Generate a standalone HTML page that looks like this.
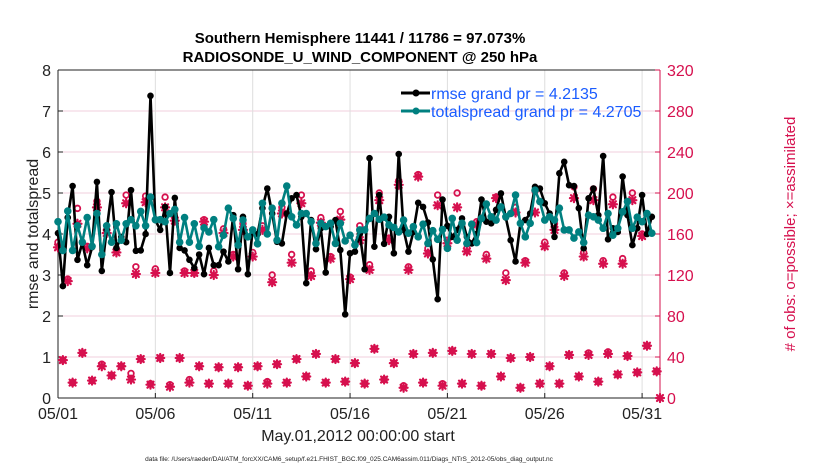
<!DOCTYPE html>
<html><head><meta charset="utf-8">
<style>
body{margin:0;background:#fff;}
svg{display:block;font-family:"Liberation Sans",Arial,sans-serif;}
</style></head>
<body>
<svg id="chart" width="830" height="470" viewBox="0 0 830 470" xmlns="http://www.w3.org/2000/svg">
<g id="grid"></g>
<g id="axes"></g>
<g id="marks"></g>
<text x="360" y="43" text-anchor="middle" font-size="15" font-weight="bold">Southern Hemisphere 11441 / 11786 = 97.073%</text>
<text x="360" y="62" text-anchor="middle" font-size="15" font-weight="bold">RADIOSONDE_U_WIND_COMPONENT @ 250 hPa</text>
<text x="358" y="441" text-anchor="middle" font-size="16" fill="#222">May.01,2012 00:00:00 start</text>
<text x="349" y="461" text-anchor="middle" font-size="6.5" fill="#222">data file: /Users/raeder/DAI/ATM_forcXX/CAM6_setup/f.e21.FHIST_BGC.f09_025.CAM6assim.011/Diags_NTrS_2012-05/obs_diag_output.nc</text>
<text transform="translate(38,234) rotate(-90)" text-anchor="middle" font-size="16" fill="#222">rmse and totalspread</text>
<text transform="translate(795,234) rotate(-90)" text-anchor="middle" font-size="15" fill="#d6104e"># of obs: o=possible; ×=assimilated</text>
<g id="legend">
  <g>
    <line x1="401" y1="93" x2="430" y2="93" stroke="#000" stroke-width="3"/>
    <circle cx="416" cy="93" r="3.5" fill="#000"/>
    <text x="431" y="99" font-size="16" fill="#1a5cff">rmse grand pr = 4.2135</text>
  </g>
  <g>
    <line x1="401" y1="111" x2="430" y2="111" stroke="#008080" stroke-width="3"/>
    <circle cx="416" cy="111" r="3.5" fill="#008080"/>
    <text x="431" y="117" font-size="16" fill="#1a5cff">totalspread grand pr = 4.2705</text>
  </g>
</g>
</svg>
<script>
const rmse = [4.02,2.73,4.4,5.17,3.37,3.78,3.24,3.68,5.27,3.1,4.1,5.02,3.66,3.93,3.8,5.07,3.59,3.6,4.0,7.37,4.34,4.1,4.66,3.05,4.88,3.66,3.6,3.37,3.17,3.5,3.02,3.66,3.24,
3.24,3.57,3.33,4.46,3.14,4.42,3.02,4.1,4.0,4.63,5.11,4.5,3.81,3.77,4.5,4.87,4.95,4.42,2.8,4.34,3.63,4.14,3.06,4.18,4.34,3.61,2.04,3.53,3.57,4.0,3.14,
5.85,3.69,4.95,3.76,4.42,3.53,5.95,4.1,3.57,4.05,4.76,4.66,4.28,3.38,2.41,4.84,4.2,3.93,4.1,4.38,3.93,3.77,4.0,4.84,4.3,4.26,4.59,4.99,
4.4,3.85,3.33,4.26,4.34,4.5,5.15,5.11,4.75,4.5,3.93,5.48,5.76,5.19,5.17,4.63,3.65,4.87,5.11,4.46,5.9,3.87,4.14,4.05,5.4,4.46,3.73,4.14,4.95,4.0,4.42];
const spread = [4.3,3.6,4.56,3.6,4.2,3.8,4.4,3.7,4.5,3.5,4.2,3.8,4.25,3.85,4.25,4.35,4.2,4.55,4.2,4.9,4.35,4.35,4.3,4.5,4.6,3.8,4.4,3.8,4.25,3.7,4.15,4.05,4.35,
3.69,3.97,4.63,4.38,3.73,4.34,3.93,4.1,3.76,4.75,4.0,4.63,3.85,4.75,5.17,4.42,4.22,4.5,4.5,4.3,3.77,4.26,4.18,4.26,3.77,4.26,3.83,3.97,3.73,4.1,4.1,
4.38,4.5,4.36,4.41,4.22,4.16,4.05,4.34,4.02,4.18,3.93,4.24,3.77,4.08,3.87,4.11,3.65,4.38,3.85,4.26,3.77,4.24,3.79,4.38,4.73,4.42,4.34,4.66,
4.42,4.5,4.95,4.26,3.93,4.26,5.07,4.79,4.34,4.42,4.34,4.63,4.1,4.1,3.9,4.05,3.79,4.46,4.42,4.34,4.14,4.5,3.97,4.14,4.54,4.79,4.14,4.41,4.3,4.5,4.02];
// obs counts: 00Z/12Z (even index) and 06Z/18Z (odd index)
const assimMain = [147,114,170,146,186,161,142,190,121,191,122,186,173,122,122,172,120,
161,138,164,138,164,113,180,132,190,119,171,136,174,116,
154,125,193,154,208,125,216,141,188,151,186,143,169,136,195,
115,181,132,181,148,164,119,195,138,193,131,189,131,193,158];
const possMain = [152,116,185,148,192,164,145,198,128,197,126,196,176,124,122,174,124,
165,140,170,142,168,120,186,140,198,124,176,138,182,118,
168,130,200,156,212,128,218,146,198,154,200,146,172,140,196,
122,186,134,202,152,170,122,206,142,204,134,196,136,200,160];
const assimLow = [37,15,44,17,31,22,31,18,38,13,39,11,39,15,31,14,30,
14,30,12,31,14,33,15,38,21,43,15,38,16,34,14,
48,18,34,10,43,15,44,12,46,14,43,12,43,21,39,10,40,
14,31,14,42,21,42,16,43,23,41,25,51,26];
const possLow = [37,15,44,17,33,22,31,24,38,14,39,13,39,18,31,14,30,
14,30,12,31,16,33,15,38,21,43,15,38,16,34,14,
48,18,34,12,43,15,44,14,46,14,43,12,43,21,39,10,40,
14,31,14,42,21,44,16,45,23,41,25,51,26];
const dateTicks = ["05/01","05/06","05/11","05/16","05/21","05/26","05/31"];
const dateTickDays = [0,5,10,15,20,25,30];
const leftTicks = [0,1,2,3,4,5,6,7,8];
const rightTicks = [0,40,80,120,160,200,240,280,320];

const X0=58, X1=660, Y0=398, Y1=70, DAYPX=19.47;
const xDay = d => X0 + d*DAYPX;
const xIdx = i => xDay(i/4);
const yL = v => Y0 - (v/8)*(Y0-Y1);
const yR = v => Y0 - (v/320)*(Y0-Y1);
const NS="http://www.w3.org/2000/svg";
function mk(tag, attrs, parent){const e=document.createElementNS(NS,tag);for(const k in attrs)e.setAttribute(k,attrs[k]);parent.appendChild(e);return e;}
const grid=document.getElementById('grid'), axes=document.getElementById('axes'), marks=document.getElementById('marks');

rightTicks.forEach(t=>{
  const l=mk('line',{x1:X0,x2:X1,y1:yR(t),y2:yR(t),stroke:'#f0cfdc','stroke-width':1},grid);
  
  
});
dateTickDays.forEach(d=>{
  const l=mk('line',{x1:xDay(d),x2:xDay(d),y1:Y1,y2:Y0,stroke:'#dedede','stroke-width':1},grid);
  
  
});
mk('line',{x1:X0,x2:X1,y1:Y1,y2:Y1,stroke:'#222','stroke-width':1},axes);
const xa=mk('line',{x1:X0,x2:X1,y1:Y0,y2:Y0,stroke:'#222','stroke-width':1},axes);


const la=mk('line',{x1:X0,x2:X0,y1:Y1,y2:Y0,stroke:'#222','stroke-width':1},axes);


const ra=mk('line',{x1:X1,x2:X1,y1:Y1,y2:Y0,stroke:'#d6104e','stroke-width':1},axes);



leftTicks.forEach(t=>{
  mk('line',{x1:X0,x2:X0+5,y1:yL(t),y2:yL(t),stroke:'#222'},axes);
  const tx=mk('text',{x:X0-7,y:yL(t)+6,'text-anchor':'end','font-size':16,fill:'#222'},axes);
  tx.textContent=t;
  
  
});
rightTicks.forEach(t=>{
  mk('line',{x1:X1-5,x2:X1,y1:yR(t),y2:yR(t),stroke:'#d6104e'},axes);
  const tx=mk('text',{x:X1+7,y:yR(t)+6,'font-size':16,fill:'#d6104e'},axes);
  tx.textContent=t;
  
  
});
dateTicks.forEach((lab,k)=>{
  const x=xDay(dateTickDays[k]);
  mk('line',{x1:x,x2:x,y1:Y0,y2:Y0-5,stroke:'#222'},axes);
  const tx=mk('text',{x:x,y:Y0+21,'text-anchor':'middle','font-size':16,fill:'#222'},axes);
  tx.textContent=lab;
  
  
});

const PINK='#d6104e';
function star(x,y,name){
  const g=mk('g',{stroke:PINK,'stroke-width':2.2,'stroke-linecap':'round'},marks);
  
  
  const r=4;
  mk('line',{x1:x-r,x2:x+r,y1:y,y2:y},g);
  mk('line',{x1:x,x2:x,y1:y-r,y2:y+r},g);
  mk('line',{x1:x-r*0.75,x2:x+r*0.75,y1:y-r*0.75,y2:y+r*0.75},g);
  mk('line',{x1:x-r*0.75,x2:x+r*0.75,y1:y+r*0.75,y2:y-r*0.75},g);
}
function ring(x,y,name){
  const c=mk('circle',{cx:x,cy:y,r:2.8,fill:'none',stroke:PINK,'stroke-width':1.8},marks);
  
  
}
possMain.forEach((v,k)=>ring(xIdx(2*k),yR(v),'possible-obs-point'));
possLow.forEach((v,k)=>ring(xIdx(2*k+1),yR(v),'possible-obs-point'));
assimMain.forEach((v,k)=>star(xIdx(2*k),yR(v),'assimilated-obs-point'));
assimLow.forEach((v,k)=>star(xIdx(2*k+1),yR(v),'assimilated-obs-point'));
star(X1,Y0,'assimilated-obs-point');

function series(data,color,name,r){
  const pts=data.map((v,i)=>xIdx(i).toFixed(1)+','+yL(v).toFixed(1)).join(' ');
  const pl=mk('polyline',{points:pts,fill:'none',stroke:color,'stroke-width':2.6,'stroke-linejoin':'round'},marks);
  
  
  data.forEach((v,i)=>{
    const c=mk('circle',{cx:xIdx(i),cy:yL(v),r:r,fill:color},marks);
    
    
  });
}
series(rmse,'#000','rmse',3.3);
series(spread,'#008080','totalspread',3.8);
</script>
</body></html>
